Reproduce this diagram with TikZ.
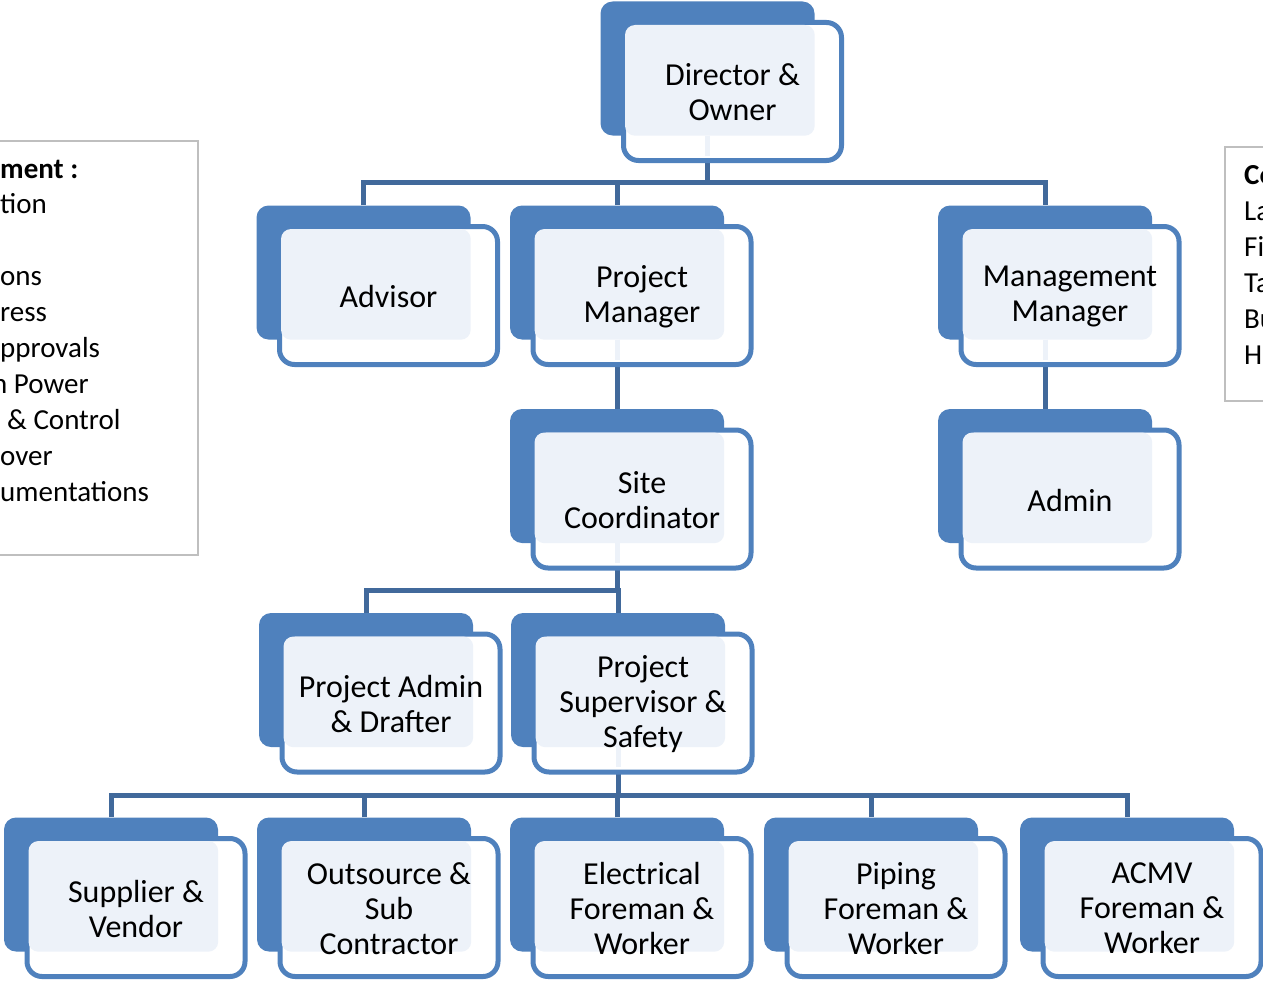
\documentclass[tikz,border=0pt]{standalone}
\usepackage{fontspec}
\setmainfont{Carlito}
\usetikzlibrary{positioning}

\pgfdeclarelayer{background}
\pgfsetlayers{background,main}

\definecolor{boxblue}{HTML}{4F81BD}
\definecolor{boxlight}{HTML}{EDF2F9}
\definecolor{linkblue}{HTML}{41699B}
\definecolor{sidegray}{HTML}{BFBFBF}

\tikzset{
	backbox/.style={fill=boxblue, rounded corners=12pt, minimum width=214pt, minimum height=134pt, inner sep=0pt},
	framebox/.style={draw=boxblue, line width=5pt, fill=white, rounded corners=15pt, minimum width=218pt, minimum height=138pt, inner sep=0pt},
	lightbox/.style={fill=boxlight, rounded corners=10pt},
	boxtext/.style={align=center, font=\fontsize{32}{35}\selectfont, inner sep=0pt},
	stub/.style={draw=boxlight, line width=5pt},
	link/.style={draw=linkblue, line width=5pt},
	sidebox/.style={draw=sidegray, line width=2.5pt},
	sidetext/.style={anchor=base west, font=\fontsize{29}{36}\selectfont, inner sep=0pt}
}

% back block, frame, light face and text of one post
\newcommand{\orgbox}[3]{%
	\node[backbox] (#1) at (#2) {};
	\node[framebox] (#1f) at ([shift={(25,23)}]#1.center) {};
	\fill[lightbox] ([shift={(-82.5,-43.5)}]#1.center) rectangle (#1.south east);
	\node[boxtext] (#1t) at ([shift={(0,1)}]#1f.center) {#3};
}

\begin{document}
\begin{tikzpicture}[x=1pt, y=-1pt]
	\useasboundingbox (0,0) rectangle (1263,982);

	% side notes
	\draw[sidebox] (-20,141) rectangle (198,555);
	\draw[sidebox] (1225,147) rectangle (1300,401);
	\node[sidetext] (l1) at (0,178) {\bfseries ment :};
	\foreach \i/\x/\txt in {2/0/tion, 4/0/ons, 5/0/ress, 6/0/pprovals, 7/-8/n Power, 8/7/\& Control, 9/0/over, 10/0/umentations}
		\node[sidetext] (l\i) at (\x,178+35.9*\i-35.9) {\txt};
	\node[sidetext] (r1) at (1244,184) {\bfseries Co};
	\foreach \i/\txt in {2/La, 3/Fi, 4/Ta, 5/Bu, 6/H}
		\node[sidetext] (r\i) at (1244,184+36*\i-36) {\txt};

	% posts
	\orgbox{dir}{707.5,68.5}{Director \&\\Owner}
	\orgbox{adv}{363.5,272.5}{Advisor}
	\orgbox{pm}{617,272.5}{Project\\Manager}
	\orgbox{mm}{1045,272.5}{Management\\Manager}
	\orgbox{sc}{617,476}{Site\\Coordinator}
	\orgbox{adm}{1045,476}{Admin}
	\orgbox{pad}{366,680}{Project Admin\\\& Drafter}
	\orgbox{pss}{618,680}{Project\\Supervisor \&\\Safety}
	\orgbox{sup}{111,884.5}{Supplier \&\\Vendor}
	\orgbox{out}{364,884.5}{Outsource \&\\Sub\\Contractor}
	\orgbox{ele}{617,884.5}{Electrical\\Foreman \&\\Worker}
	\orgbox{pip}{871,884.5}{Piping\\Foreman \&\\Worker}
	\orgbox{acm}{1127,884.5}{ACMV\\Foreman \&\\Worker}

	% connectors
	\begin{pgfonlayer}{background}
		\draw[link] (dir.south) -- ++(0,46.5) coordinate (bus1);
		\draw[link] (adv.north) |- (bus1) -| (mm.north);
		\draw[link] (pm.north) -- (pm.north |- bus1);
		\draw[link] (pm.south) -- (sc.north);
		\draw[link] (mm.south) -- (adm.north);
		\draw[link] (sc.south) -- ++(0,47) coordinate (bus2);
		\draw[link] (pad.north) |- (bus2) -| (pss.north);
		\draw[link] (pss.south) -- ++(0,48) coordinate (bus3);
		\draw[link] (sup.north) |- (bus3) -| (acm.north);
		\foreach \n in {out,ele,pip}
			\draw[link] (\n.north) -- (\n.north |- bus3);
	\end{pgfonlayer}
	\foreach \n in {dir,pm,mm,sc,pss}
		\draw[stub] (\n.south) -- ++(0,20);
\end{tikzpicture}
\end{document}
